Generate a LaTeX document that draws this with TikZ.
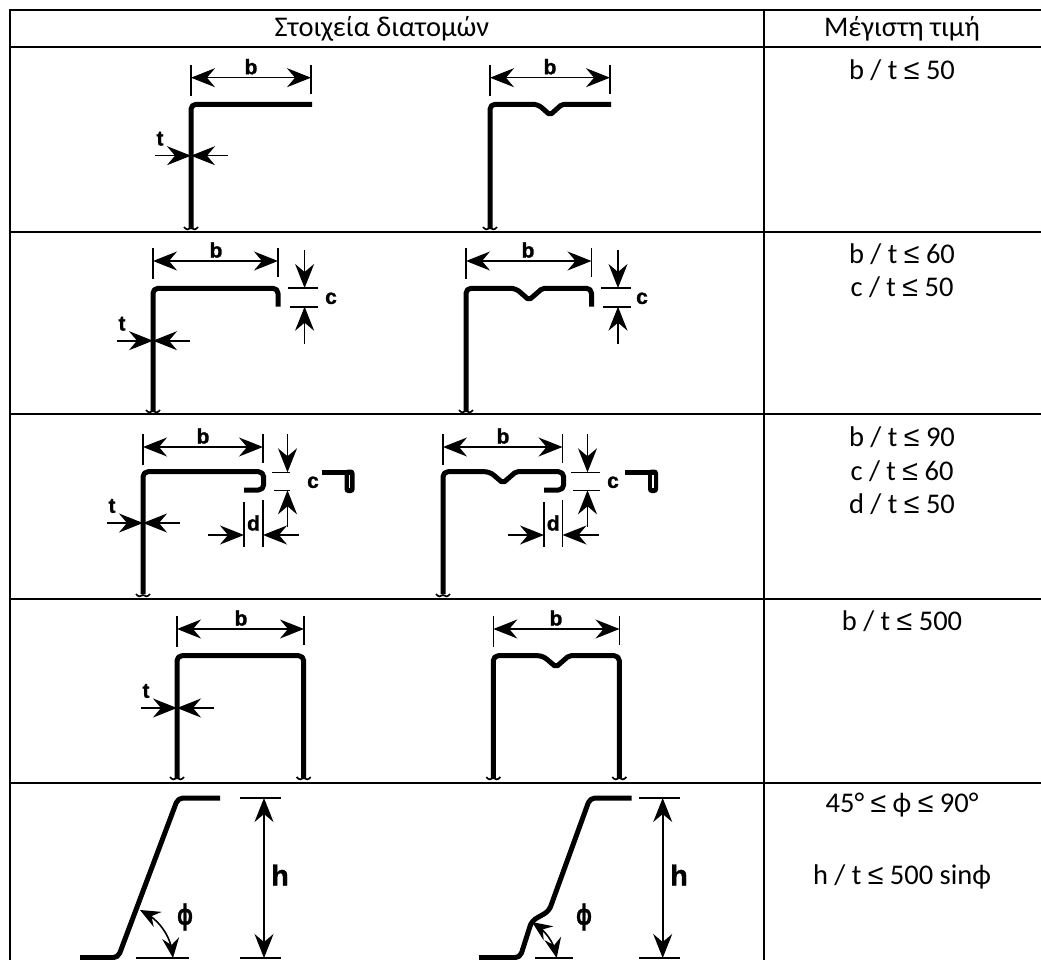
\documentclass[tikz,border=0pt]{standalone}
\usepackage{fontspec}
\setmainfont{Carlito}
\newfontfamily\lblfont{Liberation Sans}[BoldFont={Liberation Sans Bold},BoldFeatures={FakeBold=1.2}]
\newfontfamily\leqfont{Liberation Sans}
\newcommand{\leqs}{{\leqfont ≤}}
\usetikzlibrary{arrows.meta,bending}
\tikzset{
  x=1pt,y=-1pt,
  tbl/.style={line width=2pt,black},
  prof/.style={line width=5pt,line join=round,rounded corners=5pt,black},
  thinl/.style={line width=1.6pt,black},
  dimarr/.style={line width=1.6pt,black,-{Stealth[length=24pt,width=19pt,inset=8pt]}},
  dimboth/.style={line width=1.6pt,black,{Stealth[length=24pt,width=19pt,inset=8pt]}-{Stealth[length=24pt,width=19pt,inset=8pt]}},
  arcboth/.style={line width=1.6pt,black,{Stealth[length=20pt,width=17pt,inset=7pt,flex=0.6]}-{Stealth[length=20pt,width=17pt,inset=7pt,flex=0.6]}},
  cell/.style={font=\fontsize{28.5}{30}\selectfont,inner sep=0pt,anchor=center},
  lbl/.style={font=\lblfont\bfseries\fontsize{21}{21}\selectfont,inner sep=0pt},
  biglbl/.style={font=\lblfont\bfseries\fontsize{29}{29}\selectfont,inner sep=0pt},
  philbl/.style={biglbl,xscale=0.72,transform shape},
  squig/.style={line width=1.7pt,black},
}
\newcommand{\bdim}[5]{%
  \coordinate (#5l) at (#1,#3);\coordinate (#5r) at (#2,#3);
  \draw[thinl] (#1,#3-13) -- (#1,#3+18);
  \draw[thinl] (#2,#3-13) -- (#2,#3+16);
  \draw[dimboth] (#5l) -- (#5r);
  \node[lbl] (#5t) at (#4,#3-11) {b};}
\newcommand{\tdim}[3]{%
  \coordinate (#3c) at (#1,#2);\coordinate (#3a) at (#1-36,#2);\coordinate (#3z) at (#1+37,#2);
  \draw[dimarr] (#3a) -- (#3c);
  \draw[dimarr] (#3z) -- (#3c);
  \node[lbl] (#3t) at (#1-31,#2-17) {t};}
\newcommand{\brk}[2]{%
  \draw[squig] (#1-7,#2-2) .. controls (#1-5,#2+1) and (#1-2,#2+1) .. (#1,#2-1)
     .. controls (#1+2,#2+1) and (#1+5,#2+1) .. (#1+7,#2-2);}
\newcommand{\cdim}[8]{%
  \coordinate (#8a) at (#1,#6);\coordinate (#8b) at (#1,#7);
  \coordinate (#8c) at (#1,#6-38);\coordinate (#8d) at (#1,#7+37);
  \draw[thinl] (#2,#6) -- (#4,#6);
  \draw[thinl] (#3,#7) -- (#4,#7);
  \draw[dimarr] (#8c) -- (#8a);
  \draw[dimarr] (#8d) -- (#8b);
  \node[lbl] (#8t) at (#5,{(#6+#7)/2+1}) {c};}
\newcommand{\ddim}[4]{%
  \coordinate (#4a) at (#1,#3);\coordinate (#4b) at (#2,#3);
  \coordinate (#4c) at (#1-36,#3);\coordinate (#4d) at (#2+36,#3);
  \draw[thinl] (#1,#3-33) -- (#1,#3+12);
  \draw[thinl] (#2,#3-35) -- (#2,#3+12);
  \draw[dimarr] (#4c) -- (#4a);
  \draw[dimarr] (#4d) -- (#4b);
  \node[lbl] (#4t) at ({(#1+#2)/2},#3-12) {d};}
\newcommand{\hemdet}[2]{%
  \draw[line width=5pt,black] (#1,#2) -- (#1+26,#2);
  \fill[black,rounded corners=3.5pt] (#1+23,#2-2.5) rectangle (#1+33,#2+21);
  \draw[white,line width=1.1pt] (#1+28,#2+3) -- (#1+28,#2+16);}
\begin{document}
\begin{tikzpicture}
\useasboundingbox (0,0) rectangle (1041,960);
\fill[white] (0,0) rectangle (1041,960);
% table
\draw[tbl] (10,10) -- (1041,10);
\draw[tbl] (10,47.5) -- (1041,47.5);
\draw[tbl] (10,231.7) -- (1041,231.7);
\draw[tbl] (10,414) -- (1041,414);
\draw[tbl] (10,599) -- (1041,599);
\draw[tbl] (10,782.7) -- (1041,782.7);
\draw[tbl] (10,9) -- (10,960);
\draw[tbl] (764,9) -- (764,960);
% text
\node[cell] (h1) at (382,29) {Στοιχεία διατομών};
\node[cell] (h2) at (902,29) {Μέγιστη τιμή};
\node[cell] (r1) at (902,70) {b / t \leqs{} 50};
\node[cell] (r2a) at (902,254) {b / t \leqs{} 60};
\node[cell] (r2b) at (902,287) {c / t \leqs{} 50};
\node[cell] (r3a) at (902,437) {b / t \leqs{} 90};
\node[cell] (r3b) at (902,471) {c / t \leqs{} 60};
\node[cell] (r3c) at (902,504) {d / t \leqs{} 50};
\node[cell] (r4) at (902,621) {b / t \leqs{} 500};
\node[cell] (r5a) at (902,805) {45° \leqs{} ϕ \leqs{} 90°};
\node[cell] (r5b) at (902,877) {h / t \leqs{} 500 sinϕ};
% ---- row 1
\draw[prof] (191,228) -- (191,104.3) -- (312,104.3);
\brk{191}{229}
\bdim{191}{311}{77.7}{251}{ba}
\tdim{191}{155.7}{ta}
\draw[prof] (490,228) -- (490,104.3) -- (538,104.3) [rounded corners=2pt] -- (550,115) -- (562,104.3) -- (611,104.3);
\brk{490}{229}
\bdim{490}{610}{77.7}{550}{bb}
% ---- row 2
\draw[prof] (153,411) -- (153,288.3) -- (278,288.3) -- (278,306.7);
\brk{153}{412}
\bdim{153}{278}{261}{216}{bc}
\tdim{153}{340.7}{tc}
\cdim{304.6}{288}{290}{317.5}{331}{288}{306.7}{ca}
\draw[prof] (466,411) -- (466,288.3) -- (515.7,288.3) [rounded corners=2pt] -- (529,300) -- (542.5,288.3) [rounded corners=5pt] -- (591.5,288.3) -- (591.5,306.7);
\brk{466}{412}
\bdim{466}{591.5}{261}{528}{bd}
\cdim{618}{601}{603}{630.7}{642}{288}{306.7}{cb}
% ---- row 3
\draw[prof] (143,594) -- (143,471.7) -- (263.6,471.7) -- (263.6,490) -- (244,490);
\brk{143}{596}
\bdim{143}{263}{447}{203}{be}
\tdim{143}{523}{te}
\cdim{287.5}{272}{274}{290}{313}{472.3}{490.3}{cc}
\ddim{244}{263}{535}{da}
\hemdet{321.5}{472}
\draw[prof] (443,594) -- (443,471.7) -- (489.6,471.7) [rounded corners=2pt] -- (503,483) -- (516,471.7) [rounded corners=5pt] -- (563.6,471.7) -- (563.6,490) -- (544,490);
\brk{443}{596}
\bdim{443}{562.5}{447}{503}{bf}
\cdim{587.5}{571}{573}{600}{613}{472.3}{490.3}{cd}
\ddim{544}{562.5}{535}{db}
\hemdet{625}{472}
% ---- row 4
\draw[prof] (177,778) -- (177,655.7) -- (303.7,655.7) -- (303.7,778);
\brk{177}{779}\brk{303.7}{779}
\bdim{177}{304}{629}{241}{bg}
\tdim{177}{708}{tg}
\draw[prof] (493.3,778) -- (493.3,655.7) -- (542.7,655.7) [rounded corners=2pt] -- (556,667) -- (569,655.7) [rounded corners=5pt] -- (619.3,655.7) -- (619.3,778);
\brk{493.3}{779}\brk{619.3}{779}
\bdim{493.3}{619.5}{629}{556}{bh}
% ---- row 5
\draw[prof] (80,957.7) -- (118,957.7) -- (178,798) -- (220,798);
\draw[thinl] (240,798) -- (281,798);
\draw[thinl] (240,958) -- (281,958);
\coordinate (ha) at (264,798);\coordinate (hb) at (264,958);
\draw[dimboth] (ha) -- (hb);
\node[biglbl] (hl) at (280,875) {h};
\node[philbl] (pl) at (185,917) {ϕ};
\draw[thinl] (136,958) -- (189,958);
\coordinate (aa) at (140,910);\coordinate (ab) at (173,958);
\draw[arcboth] (aa) .. controls (158,918) and (172,936) .. (ab);
\draw[prof] (479,957.7) -- (520,957.7) -- (531.7,921) -- (549,911) -- (590,798) -- (631.7,798);
\draw[thinl] (639,798) -- (680,798);
\draw[thinl] (639,958) -- (680,958);
\coordinate (hc) at (662.7,798);\coordinate (hd) at (662.7,958);
\draw[dimboth] (hc) -- (hd);
\node[biglbl] (hm) at (679,875) {h};
\node[philbl] (pm) at (584,917) {ϕ};
\draw[thinl] (535,958) -- (572.7,958);
\coordinate (ac) at (532,922);\coordinate (ad) at (556.7,958);
\draw[arcboth] (ac) .. controls (544,929) and (555,942) .. (ad);
\end{tikzpicture}
\end{document}
